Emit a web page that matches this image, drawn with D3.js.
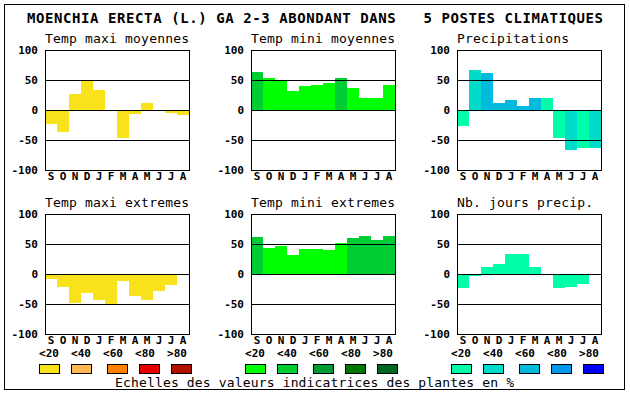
<!DOCTYPE html>
<html>
<head>
<meta charset="utf-8">
<script src="https://cdn.jsdelivr.net/npm/d3@7"></script>
<style>
    body { margin: 0; background: #fff; }
    text { font-family: "DejaVu Sans Mono", monospace; fill: #000; }
    .bold { font-weight: bold; }
</style>
</head>
<body>
<svg id="chart" width="630" height="394"></svg>
<script>
// month labels (september -> august)
const months = ["S", "O", "N", "D", "J", "F", "M", "A", "M", "J", "J", "A"];

// values, class = colour index of each bar
const tmaxMoy     = [-23, -36, 27, 49, 33, 0, -46, -6, 12, 0, -5, -8];
const tmaxMoyCls  = [0, 0, 0, 0, 0, 0, 0, 0, 0, 0, 0, 0];
const tminMoy     = [63, 53, 49, 32, 40, 42, 45, 53, 37, 20, 20, 42];
const tminMoyCls  = [1, 0, 0, 0, 0, 0, 0, 1, 0, 0, 0, 0];
const precip      = [-26, 67, 62, 12, 17, 7, 20, 20, -46, -66, -64, -64];
const precipCls   = [0, 1, 2, 2, 2, 2, 2, 0, 0, 1, 0, 1];
const tmaxExt     = [-8, -21, -49, -31, -43, -52, -11, -36, -43, -28, -18, 0];
const tmaxExtCls  = [0, 0, 0, 0, 0, 0, 0, 0, 0, 0, 0, 0];
const tminExt     = [62, 44, 46, 32, 42, 42, 40, 52, 60, 64, 57, 64];
const tminExtCls  = [1, 0, 0, 0, 0, 0, 0, 0, 1, 1, 1, 1];
const nbJours     = [-23, -4, 12, 17, 34, 34, 11, -2, -24, -22, -16, -2];
const nbJoursCls  = [0, 0, 0, 0, 0, 0, 0, 0, 0, 0, 0, 0];

const yTicks = [100, 50, 0, -50, -100];
const legendLabels = ["<20", "<40", "<60", "<80", ">80"];

const yellows = ["#f8e21c", "#ffb84f", "#ff8000", "#e80000", "#b01000"];
const greens  = ["#00ff00", "#00cc33", "#009933", "#007700", "#006622"];
const blues   = ["#00ffaa", "#00dccc", "#00bbdd", "#0099ee", "#0000ff"];

const title = "MOENCHIA ERECTA (L.) GA 2-3 ABONDANT DANS   5 POSTES CLIMATIQUES";
const caption = "Echelles des valeurs indicatrices des plantes en %";

// layout
const colLeft = [45, 251, 457],
    rowTop = [50, 214],
    plot_w = 144,
    plot_h = 120;

const panels = [
    {name: "Temp maxi moyennes", values: tmaxMoy, cls: tmaxMoyCls, colors: yellows, col: 0, row: 0},
    {name: "Temp mini moyennes", values: tminMoy, cls: tminMoyCls, colors: greens, col: 1, row: 0},
    {name: "Precipitations", values: precip, cls: precipCls, colors: blues, col: 2, row: 0},
    {name: "Temp maxi extremes", values: tmaxExt, cls: tmaxExtCls, colors: yellows, col: 0, row: 1},
    {name: "Temp mini extremes", values: tminExt, cls: tminExtCls, colors: greens, col: 1, row: 1},
    {name: "Nb. jours precip.", values: nbJours, cls: nbJoursCls, colors: blues, col: 2, row: 1}
];

const x = d3.scaleBand()
    .domain(d3.range(months.length))
    .range([0, plot_w])
    .padding(0);

const y = d3.scaleLinear()
    .domain([-100, 100])
    .range([plot_h, 0]);

const svg = d3.select("#chart");

// outer frame
svg.append("rect")
    .attr("x", 4.5).attr("y", 4.5)
    .attr("width", 620).attr("height", 385)
    .attr("fill", "none").attr("stroke", "#000");

svg.append("text")
    .attr("class", "bold")
    .attr("x", 27).attr("y", 23)
    .attr("font-size", 14)
    .attr("textLength", 576)
    .attr("lengthAdjust", "spacing")
    .attr("xml:space", "preserve")
    .style("white-space", "pre")
    .text(title);

panels.forEach(function(p)
{
    let g = svg.append("g")
        .attr("transform", "translate(" + colLeft[p.col] + "," + rowTop[p.row] + ")");

    g.append("text")
        .attr("x", 0).attr("y", -7)
        .attr("font-size", 13)
        .attr("textLength", p.name.length * 8)
        .attr("lengthAdjust", "spacing")
        .text(p.name);

    // bars
    g.selectAll(".bar")
        .data(p.values)
        .enter().append("rect")
        .attr("class", "bar")
        .attr("x", function(d, i) { return x(i); })
        .attr("width", x.bandwidth())
        .attr("y", function(d) { return y(Math.max(0, d)); })
        .attr("height", function(d) { return Math.abs(y(d) - y(0)); })
        .attr("fill", function(d, i) { return p.colors[p.cls[i]]; })
        .attr("shape-rendering", "crispEdges");

    // grid lines at 50, 0, -50
    g.selectAll(".grid")
        .data([50, 0, -50])
        .enter().append("line")
        .attr("x1", 0).attr("x2", plot_w)
        .attr("y1", function(d) { return y(d) + 0.5; })
        .attr("y2", function(d) { return y(d) + 0.5; })
        .attr("stroke", "#000")
        .attr("shape-rendering", "crispEdges");

    g.append("rect")
        .attr("x", 0.5).attr("y", 0.5)
        .attr("width", plot_w).attr("height", plot_h)
        .attr("fill", "none").attr("stroke", "#000")
        .attr("shape-rendering", "crispEdges");

    // y labels
    g.selectAll(".ytick")
        .data(yTicks)
        .enter().append("text")
        .attr("class", "bold")
        .attr("x", -7)
        .attr("y", function(d) { return y(d) + 4; })
        .attr("text-anchor", "end")
        .attr("font-size", 11)
        .text(function(d) { return d; });

    // month labels
    g.selectAll(".month")
        .data(months)
        .enter().append("text")
        .attr("class", "bold")
        .attr("x", function(d, i) { return x(i) + x.bandwidth() / 2; })
        .attr("y", plot_h + 10)
        .attr("text-anchor", "middle")
        .attr("font-size", 11)
        .text(function(d) { return d; });
});

// legends, one per colour scale
const swatchOffset = [0, 32, 68, 100, 132];
[yellows, greens, blues].forEach(function(colors, c)
{
    let x0 = colLeft[c] - 6;
    let lg = svg.append("g").attr("transform", "translate(" + x0 + ",0)");

    lg.selectAll("text")
        .data(legendLabels)
        .enter().append("text")
        .attr("class", "bold")
        .attr("x", function(d, i) { return 10 + i * 32; })
        .attr("y", 357)
        .attr("text-anchor", "middle")
        .attr("font-size", 11)
        .text(function(d) { return d; });

    lg.selectAll("rect")
        .data(colors)
        .enter().append("rect")
        .attr("x", function(d, i) { return swatchOffset[i] + 0.5; })
        .attr("y", 364.5)
        .attr("width", 20).attr("height", 9)
        .attr("fill", function(d) { return d; })
        .attr("stroke", "#000")
        .attr("shape-rendering", "crispEdges");
});

svg.append("text")
    .attr("x", 115).attr("y", 386.5)
    .attr("font-size", 13)
    .attr("textLength", 399)
    .attr("lengthAdjust", "spacing")
    .text(caption);
</script>
</body>
</html>
